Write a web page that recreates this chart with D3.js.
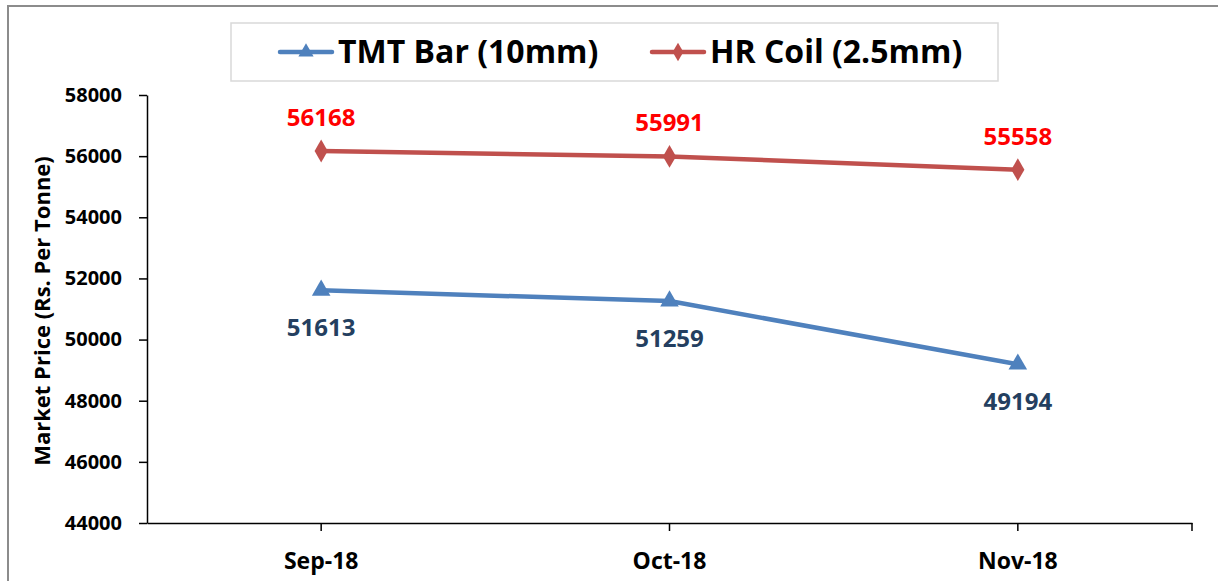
<!DOCTYPE html>
<html lang="en">
  <head>
    <meta charset="utf-8" />
    <script src="https://d3js.org/d3.v7.min.js"></script>
    <style>
      body { margin: 0; background: #fff; }
      text { font-family: "Open Sans", Arial, sans-serif; font-weight: bold; }
    </style>
  </head>
  <body>
    <svg id="chart" width="1218" height="581"></svg>
    <script>
    // chart values
    var months = ["Sep-18", "Oct-18", "Nov-18"];
    var tmtBar = [51613, 51259, 49194];
    var hrCoil = [56168, 55991, 55558];
    var yTicks = [44000, 46000, 48000, 50000, 52000, 54000, 56000, 58000];
    var seriesNames = ["TMT Bar (10mm)", "HR Coil (2.5mm)"];

    var svg = d3.select("#chart"),
      width = +svg.attr("width"),
      height = +svg.attr("height");

    // outer chart border (right and bottom run off the page)
    svg.append("rect")
      .attr("x", 8).attr("y", 6)
      .attr("width", width + 10).attr("height", height + 10)
      .attr("fill", "none")
      .attr("stroke", "#8c8c8c")
      .attr("stroke-width", 2);

    var plotLeft = 147, plotRight = 1192, plotTop = 95, plotBottom = 523;

    var x = d3.scaleBand().domain(months).range([plotLeft, plotRight]);
    var y = d3.scaleLinear().domain([44000, 58000]).range([plotBottom, plotTop]);
    var cx = function(m) { return x(m) + x.bandwidth() / 2; };

    // y axis
    var yAxis = svg.append("g")
      .attr("transform", "translate(" + plotLeft + ",0)")
      .call(d3.axisLeft(y).tickValues(yTicks).tickSize(8).tickPadding(17).tickSizeOuter(0).tickFormat(d3.format("d")));
    yAxis.select(".domain").attr("stroke", "#000").attr("stroke-width", 1.5);
    yAxis.selectAll(".tick line").attr("stroke", "#000").attr("stroke-width", 1.5);
    yAxis.selectAll(".tick text").attr("font-size", 20).attr("fill", "#000")
      .style("font-family", "'Open Sans', Arial, sans-serif").style("font-weight", "bold");

    // x axis
    var xAxis = svg.append("g")
      .attr("transform", "translate(0," + plotBottom + ")")
      .call(d3.axisBottom(x).tickSize(8).tickPadding(22).tickSizeOuter(0));
    xAxis.select(".domain").attr("stroke", "#000").attr("stroke-width", 1.5);
    xAxis.selectAll(".tick line").attr("stroke", "#000").attr("stroke-width", 1.5);
    xAxis.selectAll(".tick text").attr("font-size", 23).attr("fill", "#000")
      .style("font-family", "'Open Sans', Arial, sans-serif").style("font-weight", "bold");
    xAxis.append("line")
      .attr("x1", plotRight).attr("x2", plotRight).attr("y1", 0).attr("y2", 8)
      .attr("stroke", "#000").attr("stroke-width", 1.5);

    // y axis title
    svg.append("text")
      .attr("transform", "translate(50," + ((plotTop + plotBottom) / 2 + 2) + ") rotate(-90)")
      .attr("text-anchor", "middle")
      .attr("font-size", 22)
      .text("Market Price (Rs. Per Tonne)");

    var line = d3.line()
      .x(function(d, i) { return cx(months[i]); })
      .y(function(d) { return y(d); });

    var series = [
      { name: seriesNames[0], values: tmtBar, color: "#4f81bd", labelColor: "#243f60", symbol: d3.symbolTriangle, labelDy: 46 },
      { name: seriesNames[1], values: hrCoil, color: "#c0504d", labelColor: "#ff0000", symbol: d3.symbolDiamond, labelDy: -25 }
    ];

    series.forEach(function(s) {
      svg.append("path")
        .datum(s.values)
        .attr("d", line)
        .attr("fill", "none")
        .attr("stroke", s.color)
        .attr("stroke-width", 4.5)
        .attr("stroke-linejoin", "round");

      svg.append("g").selectAll("path")
        .data(s.values)
        .enter().append("path")
          .attr("transform", function(d, i) { return "translate(" + cx(months[i]) + "," + y(d) + ")"; })
          .attr("d", d3.symbol().type(s.symbol).size(150))
          .attr("fill", s.color);

      svg.append("g").selectAll("text")
        .data(s.values)
        .enter().append("text")
          .attr("x", function(d, i) { return cx(months[i]); })
          .attr("y", function(d) { return y(d) + s.labelDy; })
          .attr("text-anchor", "middle")
          .attr("font-size", 24)
          .attr("fill", s.labelColor)
          .text(function(d) { return d; });
    });

    // legend
    var legend = svg.append("g");
    legend.append("rect")
      .attr("x", 231).attr("y", 23).attr("width", 767).attr("height", 58)
      .attr("fill", "#fff").attr("stroke", "#d9d9d9").attr("stroke-width", 1.5);
    var legendX = [280, 652];
    series.forEach(function(s, i) {
      var g = legend.append("g").attr("transform", "translate(" + legendX[i] + ",52)");
      g.append("line").attr("x1", 0).attr("x2", 52).attr("y1", 0).attr("y2", 0)
        .attr("stroke", s.color).attr("stroke-width", 4.5).attr("stroke-linecap", "round");
      g.append("path").attr("transform", "translate(26,0)")
        .attr("d", d3.symbol().type(s.symbol).size(100)).attr("fill", s.color);
      g.append("text").attr("x", 58).attr("y", 11)
        .attr("font-size", 32).attr("fill", "#000")
        .text(s.name);
    });
    </script>
  </body>
</html>
